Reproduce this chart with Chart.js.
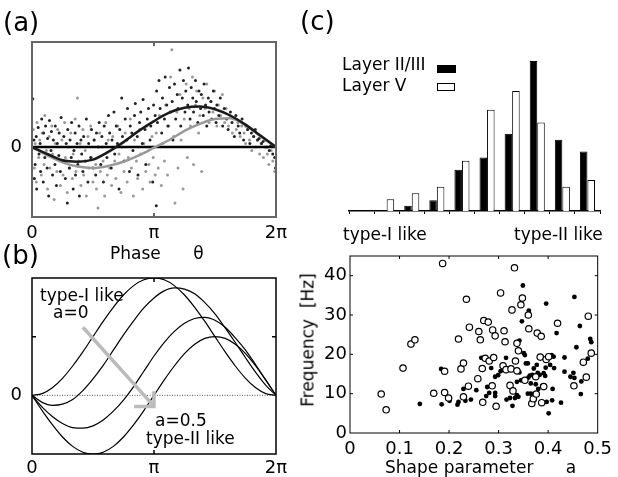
<!DOCTYPE html>
<html>
<head>
<meta charset="utf-8">
<script src="https://cdn.jsdelivr.net/npm/chart.js@4/dist/chart.umd.min.js"></script>
<style>
  body { margin: 0; background: #fff; }
  #wrap { position: relative; width: 618px; height: 477px; overflow: hidden; }
  #wrap canvas { position: absolute; left: 0; top: 0; }
  .t { position: absolute; font-family: 'DejaVu Sans', sans-serif; font-size: 17px; line-height: 1;
       white-space: pre; transform: translateY(-50%); color: #000; }
  .big { font-size: 26px; }
  .box { position: absolute; border: 1px solid #000; }
</style>
</head>
<body>
<div id="wrap">
  <canvas id="ca" width="618" height="477"></canvas>
  <canvas id="cb" width="618" height="477"></canvas>
  <canvas id="ch" width="618" height="477"></canvas>
  <canvas id="cs" width="618" height="477"></canvas>

  <div class="t big" style="left:3px;top:22px">(a)</div>
  <div class="t big" style="left:2px;top:255px">(b)</div>
  <div class="t big" style="left:300px;top:21px">(c)</div>
  <div class="t" style="left:110px;top:253px">Phase      θ</div>
  <div class="t" style="left:40px;top:295px">type-I like</div>
  <div class="t" style="left:53px;top:312px">a=0</div>
  <div class="t" style="left:155px;top:420px">a=0.5</div>
  <div class="t" style="left:146px;top:438px">type-II like</div>
  <div class="t" style="left:342px;top:64px">Layer II/III</div>
  <div class="t" style="left:342px;top:85px">Layer V</div>
  <div class="box" style="left:437px;top:65px;width:17px;height:6px;background:#000"></div>
  <div class="box" style="left:437px;top:83px;width:16px;height:6px;background:#fff"></div>
  <div class="t" style="left:343px;top:234px">type-I like</div>
  <div class="t" style="left:514px;top:234px">type-II like</div>
  <div class="t" style="left:385px;top:467px">Shape parameter      a</div>
  <div class="t" style="left:308px;top:340px;transform:translate(-50%,-50%) rotate(-90deg)">Frequency  [Hz]</div>
</div>

<script>
// ---------- data ----------
// (a) phase response: grid of phases and fitted curves
const phaseGrid = [0, 0.393, 0.785, 1.178, 1.571, 1.963, 2.356, 2.749, 3.142, 3.534, 3.927, 4.320, 4.712, 5.105, 5.498, 5.890, 6.283];
const fitLayer23 = [0, -0.10, -0.19, -0.21, -0.18, -0.07, 0.07, 0.23, 0.37, 0.49, 0.56, 0.58, 0.54, 0.45, 0.32, 0.16, 0];
const fitLayer5 = [0, -0.12, -0.22, -0.28, -0.30, -0.27, -0.21, -0.12, -0.01, 0.10, 0.23, 0.33, 0.40, 0.41, 0.31, 0.15, 0];

const dotsLayer23 = [
  [0.02,0.69],[0.05,0.1],[0.06,-0.45],[0.08,-0.25],[0.11,0.15],[0.12,-0.6],[0.16,0.28],[0.18,-0.1],[0.21,0.05],[0.22,-0.35],
  [0.25,0.4],[0.29,-0.5],[0.3,0.2],[0.33,-0.15],[0.35,0.3],[0.39,-0.3],[0.4,0.12],[0.43,-0.7],[0.45,0.38],[0.49,-0.05],
  [0.5,0.22],[0.53,-0.4],[0.55,0.1],[0.59,-0.25],[0.6,0.3],[0.63,-0.55],[0.65,0.05],[0.69,-0.12],[0.7,0.2],[0.73,-0.35],
  [0.75,0.42],[0.79,-0.2],[0.82,0.15],[0.86,-0.45],[0.88,0.05],[0.91,-0.8],[0.92,0.25],[0.96,-0.3],[0.98,0.1],[1.01,-0.15],
  [1.02,0.35],[1.06,-0.6],[1.08,-0.05],[1.11,0.2],[1.12,-0.4],[1.16,0.05],[1.18,-0.25],[1.21,0.3],[1.22,-0.7],[1.26,0.1],
  [1.28,-0.1],[1.31,-0.35],[1.33,0.15],[1.37,-0.2],[1.4,0.4],[1.44,-0.5],[1.46,0.05],[1.51,-0.15],[1.53,0.25],[1.57,-0.3],
  [1.6,0.1],[1.64,-0.4],[1.66,0.2],[1.71,0.0],[1.73,0.35],[1.77,-0.25],[1.8,0.15],[1.84,-0.5],[1.86,0.3],[1.91,0.05],
  [1.93,-0.15],[1.97,0.45],[2.0,0.2],[2.04,-0.3],[2.06,0.1],[2.11,0.5],[2.13,-0.1],[2.17,0.3],[2.2,0.05],[2.24,-0.6],
  [2.26,0.25],[2.31,0.7],[2.33,0.15],[2.37,-0.2],[2.4,0.4],[2.44,0.1],[2.46,0.55],[2.51,-0.35],[2.53,0.3],[2.57,0.2],
  [2.6,-0.05],[2.64,0.45],[2.66,0.62],[2.71,0.15],[2.73,-0.4],[2.77,0.35],[2.8,0.5],[2.84,0.05],[2.86,0.68],[2.91,0.25],
  [2.93,-0.25],[2.97,0.4],[3.0,0.55],[3.04,0.1],[3.06,0.3],[3.11,-0.5],[3.13,0.6],[3.17,0.45],[3.2,-0.84],[3.21,0.8],
  [3.23,0.35],[3.27,0.95],[3.3,0.55],[3.34,0.2],[3.36,0.7],[3.41,0.4],[3.43,1.0],[3.47,0.6],[3.5,0.3],[3.54,0.85],
  [3.56,0.5],[3.61,0.65],[3.63,0.1],[3.67,0.9],[3.7,0.4],[3.74,0.75],[3.76,0.55],[3.81,1.1],[3.83,0.3],[3.87,0.7],
  [3.9,0.95],[3.94,0.5],[3.96,0.8],[4.01,0.6],[4.03,1.13],[4.07,0.4],[4.1,0.85],[4.14,0.7],[4.16,0.5],[4.21,0.95],
  [4.23,0.65],[4.27,0.35],[4.3,0.8],[4.34,0.55],[4.36,0.75],[4.41,0.45],[4.43,0.9],[4.47,0.6],[4.5,0.3],[4.54,0.7],
  [4.56,0.5],[4.61,0.65],[4.63,0.4],[4.67,0.8],[4.7,0.55],[4.74,0.35],[4.76,0.6],[4.81,0.45],[4.85,0.7],[4.91,0.3],
  [4.95,0.55],[5.01,0.4],[5.05,0.25],[5.11,0.5],[5.15,0.35],[5.21,0.15],[5.25,0.45],[5.31,0.3],[5.35,0.2],[5.41,0.4],
  [5.45,0.1],[5.51,0.3],[5.55,0.25],[5.61,0.05],[5.65,0.2],[5.71,0.15],[5.75,0.25],[5.81,0.1],[5.85,0.12],[5.91,0.05],
  [5.95,0.08],[6.01,0.1],[6.05,0.0],[6.11,-0.05],[6.15,0.02],[6.2,-0.1],[6.25,-0.15],[6.27,-0.3]
];
const dotsLayer5 = [
  [0.03,0.25],[0.06,-0.3],[0.08,0.05],[0.11,-0.5],[0.13,0.35],[0.17,-0.15],[0.2,0.1],[0.24,-0.4],[0.26,0.2],[0.31,-0.25],
  [0.33,0.45],[0.37,-0.05],[0.4,-0.6],[0.44,0.15],[0.46,-0.3],[0.51,0.3],[0.53,-0.1],[0.57,-0.75],[0.6,0.05],[0.64,-0.35],
  [0.66,0.25],[0.71,-0.2],[0.73,-0.55],[0.77,0.1],[0.8,-0.4],[0.84,0.35],[0.86,-0.15],[0.91,-0.65],[0.93,0.0],[0.97,-0.3],
  [1.0,0.2],[1.04,-0.45],[1.06,-0.1],[1.11,0.4],[1.13,-0.35],[1.17,0.7],[1.2,-0.2],[1.24,0.05],[1.26,-0.55],[1.31,0.25],
  [1.33,-0.4],[1.37,-0.05],[1.4,-0.7],[1.44,0.15],[1.46,-0.3],[1.51,0.3],[1.53,-0.15],[1.57,-0.5],[1.6,0.1],[1.64,-0.25],
  [1.66,-0.6],[1.7,-0.87],[1.74,0.2],[1.76,-0.35],[1.81,0.0],[1.83,-0.2],[1.87,-0.7],[1.9,0.35],[1.94,-0.4],[1.96,0.1],
  [2.0,-0.3],[2.05,-0.55],[2.08,0.15],[2.13,-0.2],[2.16,-0.45],[2.21,0.3],[2.24,-0.1],[2.29,-0.65],[2.32,0.0],[2.37,-0.35],
  [2.4,0.2],[2.45,-0.5],[2.48,-0.15],[2.53,0.4],[2.56,-0.3],[2.61,-0.7],[2.64,0.1],[2.69,-0.2],[2.72,-0.45],[2.77,0.25],
  [2.8,-0.1],[2.85,-0.6],[2.88,0.05],[2.93,-0.35],[2.96,0.3],[3.01,-0.25],[3.04,-0.5],[3.09,0.15],[3.12,-0.15],[3.17,-0.4],
  [3.2,0.2],[3.25,-0.3],[3.28,0.45],[3.33,-0.55],[3.36,0.05],[3.41,-0.2],[3.44,0.6],[3.49,-0.4],[3.52,0.3],[3.57,1.0],
  [3.6,1.39],[3.65,0.15],[3.68,-0.8],[3.73,0.5],[3.76,-0.3],[3.81,0.75],[3.84,0.1],[3.89,-0.6],[3.92,0.4],[3.97,0.9],
  [4.0,-0.15],[4.05,0.55],[4.08,0.3],[4.13,1.0],[4.16,-0.25],[4.21,0.6],[4.24,0.8],[4.29,0.2],[4.32,0.45],[4.37,-0.35],
  [4.4,0.7],[4.46,0.55],[4.5,0.9],[4.56,0.35],[4.6,0.65],[4.66,0.5],[4.7,0.8],[4.76,0.3],[4.8,0.6],[4.86,0.45],
  [4.9,0.75],[4.96,0.35],[5.0,0.55],[5.06,0.3],[5.1,0.45],[5.16,0.2],[5.2,0.4],[5.26,0.25],[5.3,0.35],[5.36,0.15],
  [5.4,0.3],[5.46,0.2],[5.5,0.05],[5.56,0.25],[5.6,0.1],[5.66,-0.05],[5.7,0.15],[5.76,0.0],[5.8,0.1],[5.86,-0.1],
  [5.9,0.05],[5.96,-0.15],[6.0,0.0],[6.06,-0.1],[6.1,-0.25],[6.16,-0.05],[6.2,-0.2],[6.25,-0.35]
];

// (b) model curves for shape parameter a = 0 ... 0.5
const phaseFine = [0, 0.262, 0.524, 0.785, 1.047, 1.309, 1.571, 1.833, 2.094, 2.356, 2.618, 2.880, 3.142,
                   3.403, 3.665, 3.927, 4.189, 4.451, 4.712, 4.974, 5.236, 5.498, 5.760, 6.021, 6.283];
const curveA0 = [0, 0.03, 0.13, 0.29, 0.5, 0.74, 1.0, 1.26, 1.5, 1.71, 1.87, 1.97, 2.0, 1.97, 1.87, 1.71, 1.5, 1.26, 1.0, 0.74, 0.5, 0.29, 0.13, 0.03, 0];
const curveA1 = [0, -0.12, -0.17, -0.15, -0.07, 0.08, 0.28, 0.51, 0.77, 1.03, 1.27, 1.49, 1.66, 1.78, 1.83, 1.81, 1.73, 1.58, 1.39, 1.15, 0.9, 0.64, 0.39, 0.17, 0];
const curveA2 = [0, -0.2, -0.36, -0.48, -0.55, -0.56, -0.52, -0.42, -0.27, -0.08, 0.15, 0.41, 0.67, 0.9, 1.09, 1.23, 1.31, 1.33, 1.28, 1.16, 0.98, 0.77, 0.52, 0.26, 0];
const curveA3 = [0, -0.26, -0.5, -0.71, -0.87, -0.97, -1.0, -0.97, -0.87, -0.71, -0.5, -0.26, 0, 0.26, 0.5, 0.71, 0.87, 0.97, 1.0, 0.97, 0.87, 0.71, 0.5, 0.26, 0];
const arrowShaft = [[1.31, 1.16], [3.12, -0.17]];
const arrowHead = [[2.63, -0.19], [3.14, -0.19], [3.14, 0.07]];

const phaseTicks = [0, 3.1416, 6.2832];
const phaseLabels = ['0', 'π', '2π'];

// (c) histogram of shape parameter (percent of cells)
const bins = ['1', '2', '3', '4', '5', '6', '7', '8', '9', '10'];
const histLayer23 = [0, 0, 1.1, 2.3, 8.8, 11.4, 16.5, 32.0, 15.2, 12.7];
const histLayer5 = [0, 2.5, 3.8, 5.2, 10.7, 21.6, 25.6, 18.9, 5.2, 6.6];

// (c) shape parameter vs frequency
const cellsLayer5 = [
  [0.063,9.9],[0.073,5.9],[0.107,16.5],[0.123,22.6],[0.131,23.7],[0.169,10.1],[0.187,43.1],[0.191,15.7],[0.191,10.3],[0.199,8.9],
  [0.219,23.9],[0.224,16.3],[0.229,17.8],[0.229,9.2],[0.235,34.0],[0.239,11.9],[0.241,26.9],[0.258,13.8],[0.260,25.8],[0.263,23.7],
  [0.267,16.4],[0.268,7.8],[0.270,28.6],[0.273,19.0],[0.279,28.2],[0.281,18.3],[0.287,12.0],[0.288,26.2],[0.290,19.2],[0.293,24.7],
  [0.295,6.8],[0.304,35.6],[0.309,17.1],[0.311,26.0],[0.313,23.2],[0.315,16.1],[0.323,12.1],[0.325,16.3],[0.327,31.3],[0.329,10.7],
  [0.332,42.0],[0.334,18.3],[0.337,22.8],[0.337,15.8],[0.340,20.9],[0.345,32.6],[0.348,34.3],[0.353,13.4],[0.360,30.0],[0.361,26.5],
  [0.367,7.5],[0.370,8.7],[0.375,14.3],[0.376,9.9],[0.378,25.4],[0.384,19.3],[0.386,24.6],[0.387,7.7],[0.391,11.8],[0.396,18.7],
  [0.401,19.4],[0.419,27.9],[0.452,12.0],[0.471,18.0],[0.477,14.2],[0.481,29.7],[0.487,20.3]
];
const cellsLayer23 = [
  [0.141,7.4],[0.184,16.3],[0.185,7.3],[0.201,8.2],[0.217,7.2],[0.219,7.9],[0.229,11.2],[0.233,8.2],[0.244,8.5],[0.255,10.9],
  [0.265,19.1],[0.275,9.4],[0.277,11.7],[0.281,10.2],[0.285,16.5],[0.293,10.2],[0.293,9.4],[0.293,14.3],[0.299,14.7],[0.304,15.7],
  [0.315,19.1],[0.316,8.5],[0.323,8.9],[0.328,6.9],[0.333,8.9],[0.337,9.6],[0.337,13.0],[0.340,9.2],[0.342,23.5],[0.342,15.4],
  [0.345,13.4],[0.347,28.4],[0.349,37.5],[0.351,20.3],[0.353,19.8],[0.355,17.7],[0.359,10.0],[0.359,17.7],[0.360,14.1],[0.361,31.1],
  [0.363,14.6],[0.365,10.0],[0.365,12.6],[0.368,14.8],[0.371,16.4],[0.372,8.3],[0.375,12.4],[0.377,17.3],[0.379,15.3],[0.380,11.2],
  [0.383,14.8],[0.387,19.2],[0.388,12.0],[0.391,15.2],[0.394,14.5],[0.395,16.6],[0.396,32.9],[0.397,7.9],[0.401,5.0],[0.404,17.3],
  [0.407,19.8],[0.408,8.3],[0.409,11.2],[0.411,19.4],[0.412,16.5],[0.417,25.4],[0.426,7.7],[0.433,19.2],[0.433,15.6],[0.445,14.3],
  [0.451,15.3],[0.453,14.0],[0.453,34.6],[0.457,21.8],[0.464,27.2],[0.466,9.9],[0.467,13.1],[0.480,18.9],[0.485,23.9],[0.487,23.1]
];
const shapeTicks = [0, 0.1, 0.2, 0.3, 0.4, 0.5];
const shapeLabels = ['0', '0.1', '0.2', '0.3', '0.4', '0.5'];
const freqTicks = [0, 10, 20, 30, 40];

// ---------- helpers ----------
Chart.defaults.font.family = "'DejaVu Sans', sans-serif";
Chart.defaults.font.size = 17;
Chart.defaults.color = '#000';
Chart.defaults.animation = false;
Chart.defaults.responsive = false;
Chart.defaults.plugins.legend.display = false;
Chart.defaults.plugins.tooltip.enabled = false;

// frame with inward tick marks, like the matlab box
const framePlugin = {
  id: 'frame',
  afterDatasetsDraw(chart, args, opts) {
    if (!opts.show) return;
    const { ctx, chartArea: a, scales } = chart;
    const len = opts.len || 4;
    ctx.save();
    ctx.strokeStyle = opts.color || '#000';
    ctx.lineWidth = opts.width || 1;
    ctx.strokeRect(a.left, a.top, a.right - a.left, a.bottom - a.top);
    ctx.beginPath();
    (opts.xTicks || []).forEach(v => {
      const x = scales.x.getPixelForValue(v);
      ctx.moveTo(x, a.bottom); ctx.lineTo(x, a.bottom - len);
      ctx.moveTo(x, a.top); ctx.lineTo(x, a.top + len);
    });
    (opts.yTicks || []).forEach(v => {
      const y = scales.y.getPixelForValue(v);
      ctx.moveTo(a.left, y); ctx.lineTo(a.left + len, y);
      ctx.moveTo(a.right, y); ctx.lineTo(a.right - len, y);
    });
    ctx.stroke();
    ctx.restore();
  }
};
Chart.register(framePlugin);

const toXY = arr => arr.map(p => ({ x: p[0], y: p[1] }));
const zip = (xs, ys) => xs.map((x, i) => ({ x: x, y: ys[i] }));
const fixW = w => s => { s.width = w; };
const fixH = h => s => { s.height = h; };
const hideGrid = { drawOnChartArea: false, drawTicks: false };

function phaseAxis(h, pad) {
  return {
    type: 'linear', min: 0, max: 6.2832,
    afterBuildTicks: s => { s.ticks = phaseTicks.map(v => ({ value: v })); },
    afterFit: fixH(h),
    grid: hideGrid, border: { display: false },
    ticks: { padding: pad, font: { size: 18 }, callback: (v, i) => phaseLabels[i] }
  };
}
function zeroAxis(min, max) {
  return {
    type: 'linear', min: min, max: max,
    afterBuildTicks: s => { s.ticks = [{ value: 0 }]; },
    afterFit: fixW(32),
    grid: hideGrid, border: { display: false },
    ticks: { padding: 10, font: { size: 18 } }
  };
}

// ---------- (a) ----------
new Chart(document.getElementById('ca'), {
  type: 'scatter',
  data: {
    datasets: [
      { data: zip(phaseGrid, fitLayer23), showLine: true, borderColor: '#1a1a1a', borderWidth: 2.5, pointRadius: 0, cubicInterpolationMode: 'monotone', order: 0 },
      { data: zip(phaseGrid, fitLayer5), showLine: true, borderColor: '#999', borderWidth: 2.5, pointRadius: 0, cubicInterpolationMode: 'monotone', order: 1 },
      { data: [{ x: 0, y: 0 }, { x: 6.2832, y: 0 }], showLine: true, borderColor: '#000', borderWidth: 2.5, pointRadius: 0, order: 2 },
      { data: toXY(dotsLayer23), backgroundColor: '#222', borderWidth: 0, pointRadius: 1.5, order: 3 },
      { data: toXY(dotsLayer5), backgroundColor: '#999', borderWidth: 0, pointRadius: 1.5, order: 4 }
    ]
  },
  options: {
    layout: { padding: { left: 0, top: 42, right: 342, bottom: 230 } },
    scales: { x: phaseAxis(30, 6), y: zeroAxis(-1, 1.5) },
    plugins: { frame: { show: true, color: '#666', width: 2, xTicks: [3.1416], len: 4 } }
  }
});

// ---------- (b) ----------
const curveStyle = { showLine: true, borderColor: '#000', borderWidth: 1.2, pointRadius: 0, cubicInterpolationMode: 'monotone', order: 2 };
new Chart(document.getElementById('cb'), {
  type: 'scatter',
  data: {
    datasets: [
      { data: toXY(arrowShaft), showLine: true, borderColor: '#bbb', borderWidth: 3.5, pointRadius: 0, order: 0 },
      { data: toXY(arrowHead), showLine: true, borderColor: '#bbb', borderWidth: 3.5, pointRadius: 0, order: 0 },
      Object.assign({ data: zip(phaseFine, curveA0) }, curveStyle),
      Object.assign({ data: zip(phaseFine, curveA1) }, curveStyle),
      Object.assign({ data: zip(phaseFine, curveA2) }, curveStyle),
      Object.assign({ data: zip(phaseFine, curveA3) }, curveStyle),
      { data: [{ x: 0, y: 0 }, { x: 6.2832, y: 0 }], showLine: true, borderColor: '#555', borderWidth: 1, borderDash: [1, 1.5], pointRadius: 0, order: 3 }
    ]
  },
  options: {
    layout: { padding: { left: 0, top: 278, right: 342, bottom: 0 } },
    scales: { x: phaseAxis(23, 4), y: zeroAxis(-1, 2) },
    plugins: { frame: { show: true, color: '#000', width: 1.5, xTicks: [3.1416], yTicks: [1], len: 4 } }
  }
});

// ---------- (c) histogram ----------
new Chart(document.getElementById('ch'), {
  type: 'bar',
  data: {
    labels: bins,
    datasets: [
      { label: 'Layer II/III', data: histLayer23, backgroundColor: '#000', borderColor: '#000', borderWidth: 1 },
      { label: 'Layer V', data: histLayer5, backgroundColor: '#fff', borderColor: '#000', borderWidth: 1 }
    ]
  },
  options: {
    layout: { padding: { left: 349, top: 61, right: 18, bottom: 262 } },
    datasets: { bar: { categoryPercentage: 0.6, barPercentage: 1.0 } },
    scales: {
      x: {
        afterFit: fixH(4),
        ticks: { display: false },
        grid: { offset: true, drawOnChartArea: false, drawTicks: true, tickLength: 3, color: '#000', lineWidth: 1 },
        border: { display: true, color: '#000', width: 1.5 }
      },
      y: { display: false, min: 0, max: 32 }
    }
  }
});

// ---------- (c) scatter ----------
new Chart(document.getElementById('cs'), {
  type: 'scatter',
  data: {
    datasets: [
      { label: 'Layer V', data: toXY(cellsLayer5), pointRadius: 3.2, borderColor: '#000', borderWidth: 1.2, backgroundColor: '#fff' },
      { label: 'Layer II/III', data: toXY(cellsLayer23), pointRadius: 2.4, borderWidth: 0, backgroundColor: '#000' }
    ]
  },
  options: {
    layout: { padding: { left: 300, top: 256, right: 18, bottom: 14 } },
    scales: {
      x: {
        type: 'linear', min: 0, max: 0.5,
        afterBuildTicks: s => { s.ticks = shapeTicks.map(v => ({ value: v })); },
        afterFit: fixH(30),
        grid: hideGrid, border: { display: false },
        ticks: { padding: 6, font: { size: 18 }, callback: (v, i) => shapeLabels[i] }
      },
      y: {
        type: 'linear', min: 0, max: 45,
        afterBuildTicks: s => { s.ticks = freqTicks.map(v => ({ value: v })); },
        afterFit: fixW(50),
        grid: hideGrid, border: { display: false },
        ticks: { padding: 3, font: { size: 18 } }
      }
    },
    plugins: { frame: { show: true, color: '#000', width: 1, xTicks: [0.1, 0.2, 0.3, 0.4], yTicks: [10, 20, 30, 40], len: 3 } }
  }
});
</script>
</body>
</html>
